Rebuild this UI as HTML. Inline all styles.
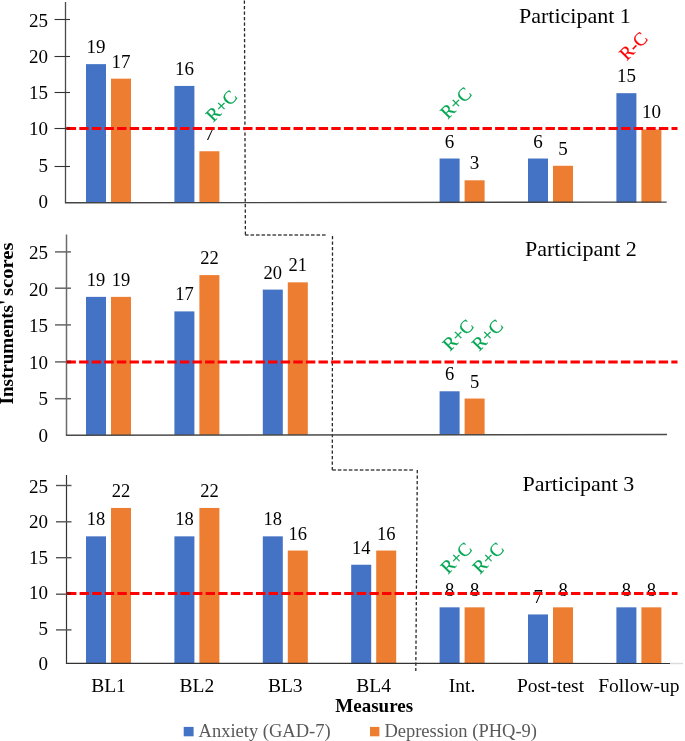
<!DOCTYPE html><html><head><meta charset="utf-8"><style>html,body{margin:0;padding:0;background:#fff;width:685px;height:741px;overflow:hidden}svg{display:block;will-change:transform}text{font-family:"Liberation Serif",serif}</style></head><body>
<svg width="685" height="741" viewBox="0 0 685 741">
<rect width="685" height="741" fill="#fff"/>
<path d="M244.4 0.55 L245.4 235 M332.5 236 L332.3 470 M417.3 470 L415.8 671" fill="none" stroke="#262626" stroke-width="1.3" stroke-dasharray="3.3 2.2"/>
<path d="M245 235 H326 M332.3 470 H413" fill="none" stroke="#4a4a4a" stroke-width="1.6" stroke-dasharray="3.6 1.9"/>
<rect x="86.00" y="64.14" width="20" height="138.46" fill="#4472C4"/>
<rect x="111.00" y="78.66" width="20" height="123.94" fill="#ED7D31"/>
<rect x="174.40" y="85.92" width="20" height="116.68" fill="#4472C4"/>
<rect x="199.40" y="151.26" width="20" height="51.34" fill="#ED7D31"/>
<rect x="439.60" y="158.52" width="20" height="44.08" fill="#4472C4"/>
<rect x="464.60" y="180.30" width="20" height="22.30" fill="#ED7D31"/>
<rect x="528.00" y="158.52" width="20" height="44.08" fill="#4472C4"/>
<rect x="553.00" y="165.78" width="20" height="36.82" fill="#ED7D31"/>
<rect x="616.40" y="93.18" width="20" height="109.42" fill="#4472C4"/>
<rect x="641.40" y="129.48" width="20" height="73.12" fill="#ED7D31"/>
<line x1="65.5" y1="2" x2="65.5" y2="202.6" stroke="#4a4a4a" stroke-width="1.3"/>
<line x1="64.9" y1="202.8" x2="666.7" y2="202.1" stroke="#444" stroke-width="1.4"/>
<line x1="54.5" y1="19.5" x2="70" y2="19.5" stroke="#333" stroke-width="1.1"/>
<line x1="54.5" y1="56.5" x2="70" y2="56.5" stroke="#333" stroke-width="1.1"/>
<line x1="54.5" y1="92.5" x2="70" y2="92.5" stroke="#333" stroke-width="1.1"/>
<line x1="54.5" y1="128.5" x2="70" y2="128.5" stroke="#333" stroke-width="1.1"/>
<line x1="54.5" y1="166.5" x2="70" y2="166.5" stroke="#333" stroke-width="1.1"/>
<text x="48" y="26.50" font-size="19" text-anchor="end">25</text>
<text x="48" y="62.80" font-size="19" text-anchor="end">20</text>
<text x="48" y="99.10" font-size="19" text-anchor="end">15</text>
<text x="48" y="135.40" font-size="19" text-anchor="end">10</text>
<text x="48" y="171.70" font-size="19" text-anchor="end">5</text>
<text x="48" y="208.00" font-size="19" text-anchor="end">0</text>
<text x="96.00" y="53.14" font-size="19" text-anchor="middle">19</text>
<text x="121.00" y="67.66" font-size="19" text-anchor="middle">17</text>
<text x="184.40" y="74.92" font-size="19" text-anchor="middle">16</text>
<text x="209.40" y="140.26" font-size="19" text-anchor="middle">7</text>
<text x="449.60" y="147.52" font-size="19" text-anchor="middle">6</text>
<text x="474.60" y="169.30" font-size="19" text-anchor="middle">3</text>
<text x="538.00" y="147.52" font-size="19" text-anchor="middle">6</text>
<text x="563.00" y="154.78" font-size="19" text-anchor="middle">5</text>
<text x="626.40" y="82.18" font-size="19" text-anchor="middle">15</text>
<text x="651.40" y="118.48" font-size="19" text-anchor="middle">10</text>
<line x1="66.7" y1="128.4" x2="677.5" y2="128.4" stroke="#FF0000" stroke-width="3" stroke-dasharray="9.4 3.2"/>
<rect x="66.1" y="126.9" width="4" height="3" fill="#8a0000" opacity="0.6"/>
<text x="519" y="23" font-size="22">Participant 1</text>
<rect x="86.00" y="296.87" width="20" height="138.13" fill="#4472C4"/>
<rect x="111.00" y="296.87" width="20" height="138.13" fill="#ED7D31"/>
<rect x="174.40" y="311.40" width="20" height="123.60" fill="#4472C4"/>
<rect x="199.40" y="275.09" width="20" height="159.91" fill="#ED7D31"/>
<rect x="262.80" y="289.61" width="20" height="145.39" fill="#4472C4"/>
<rect x="287.80" y="282.35" width="20" height="152.65" fill="#ED7D31"/>
<rect x="439.60" y="391.28" width="20" height="43.72" fill="#4472C4"/>
<rect x="464.60" y="398.54" width="20" height="36.46" fill="#ED7D31"/>
<line x1="66.5" y1="234.5" x2="66.5" y2="435" stroke="#6a6a6a" stroke-width="1.5"/>
<line x1="65.9" y1="435.2" x2="667" y2="434.5" stroke="#4a4a4a" stroke-width="1.4"/>
<line x1="55" y1="251.9" x2="71" y2="251.9" stroke="#666" stroke-width="1.5"/>
<line x1="55" y1="288.2" x2="71" y2="288.2" stroke="#666" stroke-width="1.5"/>
<line x1="55" y1="324.9" x2="71" y2="324.9" stroke="#666" stroke-width="1.5"/>
<line x1="55" y1="361.9" x2="71" y2="361.9" stroke="#666" stroke-width="1.5"/>
<line x1="55" y1="398.7" x2="71" y2="398.7" stroke="#666" stroke-width="1.5"/>
<text x="48" y="259.30" font-size="19" text-anchor="end">25</text>
<text x="48" y="295.76" font-size="19" text-anchor="end">20</text>
<text x="48" y="332.22" font-size="19" text-anchor="end">15</text>
<text x="48" y="368.68" font-size="19" text-anchor="end">10</text>
<text x="48" y="405.14" font-size="19" text-anchor="end">5</text>
<text x="48" y="441.60" font-size="19" text-anchor="end">0</text>
<text x="96.00" y="285.87" font-size="18.5" text-anchor="middle">19</text>
<text x="121.00" y="285.87" font-size="18.5" text-anchor="middle">19</text>
<text x="184.40" y="300.40" font-size="18.5" text-anchor="middle">17</text>
<text x="209.40" y="264.09" font-size="18.5" text-anchor="middle">22</text>
<text x="272.80" y="278.61" font-size="18.5" text-anchor="middle">20</text>
<text x="297.80" y="271.35" font-size="18.5" text-anchor="middle">21</text>
<text x="449.60" y="380.28" font-size="18.5" text-anchor="middle">6</text>
<text x="474.60" y="387.54" font-size="18.5" text-anchor="middle">5</text>
<line x1="66.5" y1="361.9" x2="677.5" y2="361.9" stroke="#FF0000" stroke-width="3" stroke-dasharray="9.4 3.2"/>
<rect x="67.1" y="360.4" width="4" height="3" fill="#8a0000" opacity="0.6"/>
<text x="525" y="255.8" font-size="22">Participant 2</text>
<rect x="86.00" y="536.35" width="20" height="127.15" fill="#4472C4"/>
<rect x="111.00" y="507.95" width="20" height="155.55" fill="#ED7D31"/>
<rect x="174.40" y="536.35" width="20" height="127.15" fill="#4472C4"/>
<rect x="199.40" y="507.95" width="20" height="155.55" fill="#ED7D31"/>
<rect x="262.80" y="536.35" width="20" height="127.15" fill="#4472C4"/>
<rect x="287.80" y="550.55" width="20" height="112.95" fill="#ED7D31"/>
<rect x="351.20" y="564.74" width="20" height="98.76" fill="#4472C4"/>
<rect x="376.20" y="550.55" width="20" height="112.95" fill="#ED7D31"/>
<rect x="439.60" y="607.34" width="20" height="56.16" fill="#4472C4"/>
<rect x="464.60" y="607.34" width="20" height="56.16" fill="#ED7D31"/>
<rect x="528.00" y="614.44" width="20" height="49.06" fill="#4472C4"/>
<rect x="553.00" y="607.34" width="20" height="56.16" fill="#ED7D31"/>
<rect x="616.40" y="607.34" width="20" height="56.16" fill="#4472C4"/>
<rect x="641.40" y="607.34" width="20" height="56.16" fill="#ED7D31"/>
<line x1="66.5" y1="475" x2="66.5" y2="663.5" stroke="#333" stroke-width="1.2"/>
<line x1="65.9" y1="663.4" x2="670" y2="663.5" stroke="#333" stroke-width="1.2"/>
<line x1="56" y1="485.5" x2="71.5" y2="485.5" stroke="#555" stroke-width="1.4"/>
<line x1="56" y1="521.8" x2="71.5" y2="521.8" stroke="#555" stroke-width="1.4"/>
<line x1="56" y1="557.7" x2="71.5" y2="557.7" stroke="#555" stroke-width="1.4"/>
<line x1="56" y1="594.2" x2="71.5" y2="594.2" stroke="#555" stroke-width="1.4"/>
<line x1="56" y1="629.9" x2="71.5" y2="629.9" stroke="#555" stroke-width="1.4"/>
<text x="48" y="492.90" font-size="19" text-anchor="end">25</text>
<text x="48" y="528.36" font-size="19" text-anchor="end">20</text>
<text x="48" y="563.82" font-size="19" text-anchor="end">15</text>
<text x="48" y="599.28" font-size="19" text-anchor="end">10</text>
<text x="48" y="634.74" font-size="19" text-anchor="end">5</text>
<text x="48" y="670.20" font-size="19" text-anchor="end">0</text>
<text x="96.00" y="525.35" font-size="18.5" text-anchor="middle">18</text>
<text x="121.00" y="496.95" font-size="18.5" text-anchor="middle">22</text>
<text x="184.40" y="525.35" font-size="18.5" text-anchor="middle">18</text>
<text x="209.40" y="496.95" font-size="18.5" text-anchor="middle">22</text>
<text x="272.80" y="525.35" font-size="18.5" text-anchor="middle">18</text>
<text x="297.80" y="539.55" font-size="18.5" text-anchor="middle">16</text>
<text x="361.20" y="553.74" font-size="18.5" text-anchor="middle">14</text>
<text x="386.20" y="539.55" font-size="18.5" text-anchor="middle">16</text>
<text x="449.60" y="596.34" font-size="18.5" text-anchor="middle">8</text>
<text x="474.60" y="596.34" font-size="18.5" text-anchor="middle">8</text>
<text x="538.00" y="603.44" font-size="18.5" text-anchor="middle">7</text>
<text x="563.00" y="596.34" font-size="18.5" text-anchor="middle">8</text>
<text x="626.40" y="596.34" font-size="18.5" text-anchor="middle">8</text>
<text x="651.40" y="596.34" font-size="18.5" text-anchor="middle">8</text>
<line x1="67.0" y1="593.4" x2="677.5" y2="593.4" stroke="#FF0000" stroke-width="3" stroke-dasharray="9.4 3.2"/>
<rect x="67.1" y="591.9" width="4" height="3" fill="#8a0000" opacity="0.6"/>
<text x="522.5" y="490.6" font-size="22">Participant 3</text>
<line x1="670" y1="663.5" x2="683" y2="663.5" stroke="#dcdcdc" stroke-width="1.5"/>
<text transform="translate(221.3,105.9) rotate(-45)" y="6.2" font-size="18.6" text-anchor="middle" fill="#00A651" stroke="#00A651" stroke-width="0.2">R+C</text>
<text transform="translate(455.9,102.9) rotate(-45)" y="6.2" font-size="18.6" text-anchor="middle" fill="#00A651" stroke="#00A651" stroke-width="0.2">R+C</text>
<text transform="translate(633.4,46) rotate(-45)" y="6.2" font-size="18.6" text-anchor="middle" fill="#FF0000" stroke="#FF0000" stroke-width="0.2">R-C</text>
<text transform="translate(458,335) rotate(-45)" y="6.2" font-size="18.6" text-anchor="middle" fill="#00A651" stroke="#00A651" stroke-width="0.2">R+C</text>
<text transform="translate(487.3,335) rotate(-45)" y="6.2" font-size="18.6" text-anchor="middle" fill="#00A651" stroke="#00A651" stroke-width="0.2">R+C</text>
<text transform="translate(456.2,558) rotate(-45)" y="6.2" font-size="18.6" text-anchor="middle" fill="#00A651" stroke="#00A651" stroke-width="0.2">R+C</text>
<text transform="translate(488.2,558) rotate(-45)" y="6.2" font-size="18.6" text-anchor="middle" fill="#00A651" stroke="#00A651" stroke-width="0.2">R+C</text>
<text x="108.50" y="692" font-size="19.5" text-anchor="middle">BL1</text>
<text x="196.90" y="692" font-size="19.5" text-anchor="middle">BL2</text>
<text x="285.30" y="692" font-size="19.5" text-anchor="middle">BL3</text>
<text x="373.70" y="692" font-size="19.5" text-anchor="middle">BL4</text>
<text x="462.10" y="692" font-size="19.5" text-anchor="middle">Int.</text>
<text x="550.50" y="692" font-size="19.5" text-anchor="middle">Post-test</text>
<text x="638.90" y="692" font-size="19.5" text-anchor="middle">Follow-up</text>
<text x="374.2" y="712" font-size="19" font-weight="bold" text-anchor="middle">Measures</text>
<text transform="translate(13,404.5) rotate(-90)" font-size="19.5" font-weight="bold" textLength="104.8" lengthAdjust="spacingAndGlyphs">Instruments'</text>
<text transform="translate(13,296) rotate(-90)" font-size="19.5" font-weight="bold" textLength="53.5" lengthAdjust="spacingAndGlyphs">scores</text>
<rect x="183.7" y="726.9" width="9.9" height="9.4" fill="#4472C4"/>
<text x="198.6" y="736.8" font-size="18.5" fill="#595959">Anxiety (GAD-7)</text>
<rect x="370" y="726.9" width="9.4" height="9.4" fill="#ED7D31"/>
<text x="384.4" y="736.8" font-size="18.5" fill="#595959">Depression (PHQ-9)</text>
</svg></body></html>
